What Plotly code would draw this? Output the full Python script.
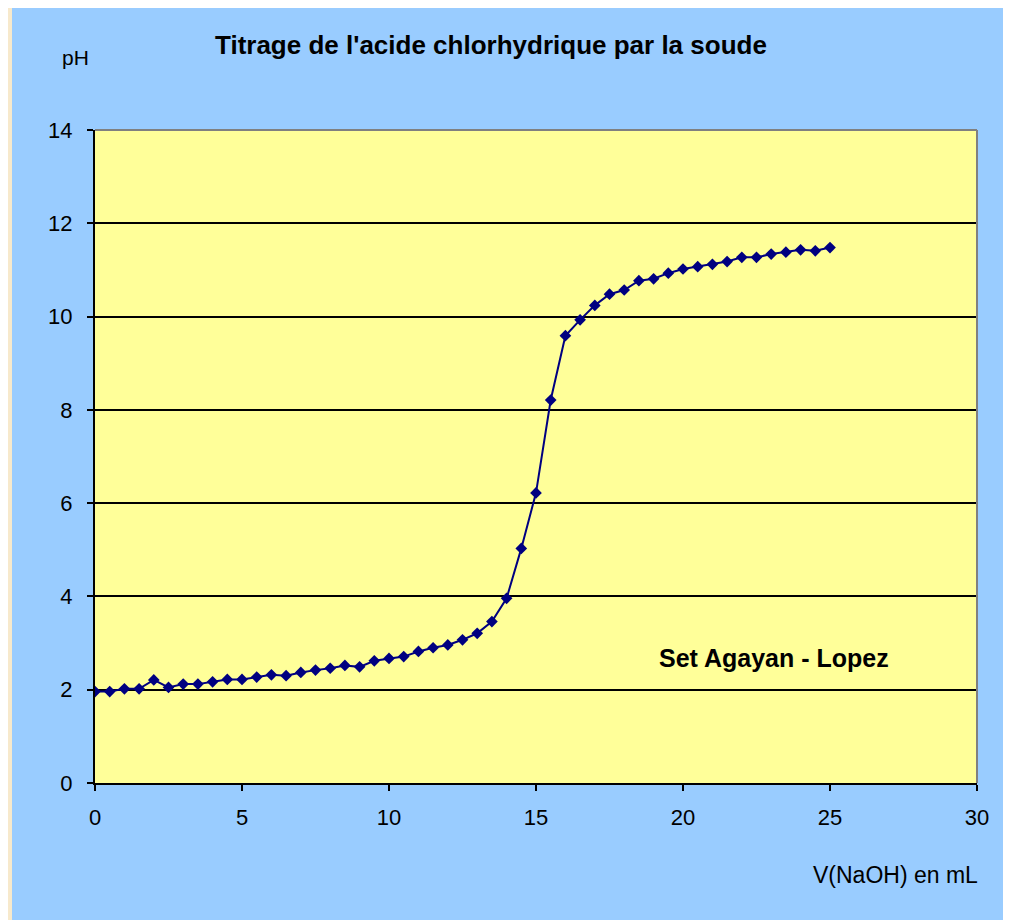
import plotly.graph_objects as go

volume_ml = [0, 0.5, 1, 1.5, 2, 2.5, 3, 3.5, 4, 4.5, 5, 5.5, 6, 6.5, 7, 7.5, 8, 8.5, 9, 9.5,
             10, 10.5, 11, 11.5, 12, 12.5, 13, 13.5, 14, 14.5, 15, 15.5, 16, 16.5, 17, 17.5,
             18, 18.5, 19, 19.5, 20, 20.5, 21, 21.5, 22, 22.5, 23, 23.5, 24, 24.5, 25]
ph_values = [1.96, 1.96, 2.02, 2.02, 2.21, 2.05, 2.12, 2.12, 2.17, 2.22, 2.22, 2.27, 2.32, 2.30,
             2.37, 2.42, 2.46, 2.52, 2.49, 2.62, 2.67, 2.71, 2.82, 2.90, 2.96, 3.07, 3.21, 3.46,
             3.96, 5.03, 6.22, 8.21, 9.59, 9.93, 10.24, 10.48, 10.57, 10.77, 10.81, 10.93, 11.02,
             11.07, 11.12, 11.18, 11.27, 11.27, 11.34, 11.38, 11.43, 11.41, 11.48]

x_ticks = [0, 5, 10, 15, 20, 25, 30]
y_ticks = [0, 2, 4, 6, 8, 10, 12, 14]

title_text = "Titrage de l'acide chlorhydrique par la soude"
y_label = "pH"
x_label = "V(NaOH) en mL"
credit = "Set Agayan - Lopez"

W, H = 1011, 920
OFF = 8  # page offset of the figure
L, T = 95 - OFF, 130 - OFF
R = W - (977 - OFF)
B = H - (783 - OFF)
pw, ph = W - L - R, H - T - B

def px(xp):
    return (xp - OFF - L) / pw

def py(yp):
    return (H - B - (yp - OFF)) / ph

FONT = "Liberation Sans, Arial, sans-serif"

fig = go.Figure()
fig.add_trace(go.Scatter(
    x=volume_ml, y=ph_values, mode="lines+markers",
    line=dict(color="#000080", width=2),
    marker=dict(symbol="diamond", size=9, color="#000080"),
    showlegend=False, hoverinfo="x+y",
))

shapes = [
    dict(type="rect", xref="paper", yref="paper", x0=px(12), x1=px(1003), y0=py(940), y1=py(6),
         fillcolor="#99CCFF", line=dict(width=0), layer="below"),
    dict(type="rect", xref="paper", yref="paper", x0=0, x1=1, y0=0, y1=1,
         fillcolor="#FFFF99", line=dict(width=0), layer="below"),
    dict(type="line", xref="paper", yref="paper", x0=0, x1=1, y0=1, y1=1,
         line=dict(color="#808080", width=2)),
    dict(type="line", xref="paper", yref="paper", x0=1, x1=1, y0=0, y1=1,
         line=dict(color="#808080", width=2)),
]

annotations = [
    dict(text="<b>" + title_text + "</b>", xref="paper", yref="paper", x=px(491), y=py(45),
         showarrow=False, font=dict(family=FONT, size=26, color="black"), xanchor="center", yanchor="middle"),
    dict(text=y_label, xref="paper", yref="paper", x=px(75), y=py(57),
         showarrow=False, font=dict(family=FONT, size=21, color="black"), xanchor="center", yanchor="middle"),
    dict(text=x_label, xref="paper", yref="paper", x=px(980), y=py(875),
         showarrow=False, font=dict(family=FONT, size=23, color="black"), xanchor="right", yanchor="middle"),
    dict(text="<b>" + credit + "</b>", xref="x", yref="y", x=23.1, y=2.68,
         showarrow=False, font=dict(family=FONT, size=25, color="black"), xanchor="center", yanchor="middle"),
]

fig.update_layout(
    width=W, height=H,
    margin=dict(l=L, r=R, t=T, b=B, pad=0),
    paper_bgcolor="#F7E9CC",
    plot_bgcolor="rgba(0,0,0,0)",
    shapes=shapes,
    annotations=annotations,
    xaxis=dict(range=[0, 30], tickvals=x_ticks, ticktext=[str(v) for v in x_ticks],
               showgrid=False, zeroline=False, showline=True, linecolor="black", linewidth=2,
               ticks="outside", ticklen=6, tickwidth=2, tickcolor="black",
               tickfont=dict(family=FONT, size=22, color="black"), ticklabelstandoff=8,
               fixedrange=True),
    yaxis=dict(range=[0, 14], tickvals=y_ticks, ticktext=[str(v) for v in y_ticks],
               showgrid=True, gridcolor="black", gridwidth=2, zeroline=False,
               showline=True, linecolor="black", linewidth=2,
               ticks="outside", ticklen=6, tickwidth=2, tickcolor="black",
               tickfont=dict(family=FONT, size=22, color="black"), ticklabelstandoff=10,
               fixedrange=True),
)

fig.write_html("out.html")
